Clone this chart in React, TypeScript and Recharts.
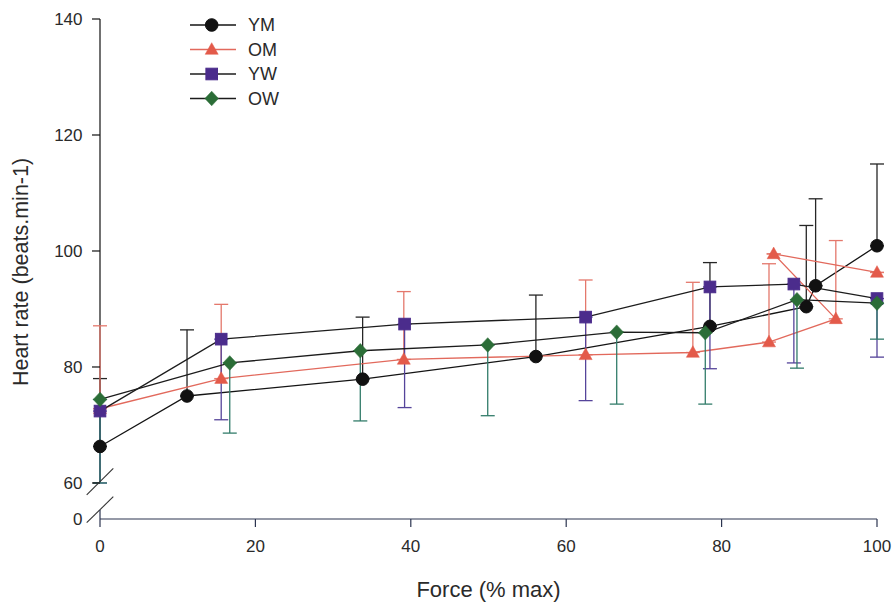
import React from 'react';
import { LineChart, Line, XAxis, YAxis, ErrorBar, ReferenceLine, Legend } from 'recharts';

// ---- Data ----
const ymForce = [0, 11.2, 33.8, 56.1, 78.5, 90.9, 92.1, 100];
const ymRate = [66.3, 75.0, 77.9, 81.8, 87.0, 90.4, 94.0, 100.9];
const ymUpperErr = [11.7, 11.4, 10.7, 10.6, 11.0, 14.0, 15.0, 14.1];

const omForce = [0, 15.6, 39.1, 62.5, 76.3, 86.1, 94.7, 86.7, 100];
const omRate = [72.8, 78.0, 81.3, 82.1, 82.5, 84.3, 88.3, 99.5, 96.3];
const omUpperErr = [14.3, 12.8, 11.7, 12.9, 12.1, 13.5, 13.5, 0, 0];

const ywForce = [0, 15.6, 39.2, 62.5, 78.5, 89.3, 100];
const ywRate = [72.4, 84.8, 87.4, 88.6, 93.8, 94.3, 91.8];
const ywLowerErr = [12.4, 13.9, 14.4, 14.4, 14.1, 13.6, 10.1];

const owForce = [0, 16.7, 33.5, 49.9, 66.5, 77.9, 89.7, 100];
const owRate = [74.4, 80.7, 82.8, 83.8, 86.0, 85.9, 91.6, 91.0];
const owLowerErr = [14.4, 12.1, 12.1, 12.2, 12.4, 12.3, 11.8, 6.2];

const xTicks = [0, 20, 40, 60, 80, 100];
const Y_BREAK_BOTTOM = 53.79; // axis bottom shown as "0" after the break
const yTickValues = [Y_BREAK_BOTTOM, 60, 80, 100, 120, 140];
const yTickLabels = ['0', '60', '80', '100', '120', '140'];

const seriesNames = ['YM', 'OM', 'YW', 'OW'];

// ---- Style ----
const FONT = '"Liberation Sans", Arial, sans-serif';
const AXIS_X = 100;
const TEXT_COLOR = '#2a2a2a';

const styles: Record<string, { line: string; fill: string; err: string; shape: string }> = {
  YM: { line: '#141414', fill: '#111111', err: '#262626', shape: 'circle' },
  OM: { line: '#e2695c', fill: '#e35a4a', err: '#e4786c', shape: 'triangle' },
  YW: { line: '#1c1c1c', fill: '#4b2c8c', err: '#55449a', shape: 'square' },
  OW: { line: '#1c1c1c', fill: '#2b6d37', err: '#327c6a', shape: 'diamond' },
};

const ymData = ymForce.map((x, i) => ({ x, y: ymRate[i], err: [0, ymUpperErr[i]] }));
const omData = omForce.map((x, i) => ({ x, y: omRate[i], err: [0, omUpperErr[i]] }));
const ywData = ywForce.map((x, i) => ({ x, y: ywRate[i], err: [ywLowerErr[i], 0] }));
const owData = owForce.map((x, i) => ({ x, y: owRate[i], err: [owLowerErr[i], 0] }));

function Marker({ cx, cy, shape, fill }: { cx: number; cy: number; shape: string; fill: string }) {
  if (cx == null || cy == null) return null;
  if (shape === 'circle') return <circle cx={cx} cy={cy} r={6.3} fill={fill} stroke={fill} />;
  if (shape === 'triangle')
    return (
      <polygon
        points={`${cx},${cy - 6.8} ${cx - 6.5},${cy + 4.8} ${cx + 6.5},${cy + 4.8}`}
        fill={fill}
        stroke={fill}
        strokeWidth={0.5}
      />
    );
  if (shape === 'square') return <rect x={cx - 5.8} y={cy - 5.8} width={11.6} height={11.6} fill={fill} stroke={fill} />;
  return (
    <polygon
      points={`${cx},${cy - 7.3} ${cx + 6.8},${cy} ${cx},${cy + 7.3} ${cx - 6.8},${cy}`}
      fill={fill}
      stroke={fill}
      strokeWidth={0.5}
    />
  );
}

const makeDot = (name: string) => (props: any) => (
  <Marker key={`${name}-${props.index}`} cx={props.cx} cy={props.cy} shape={styles[name].shape} fill={styles[name].fill} />
);

function YTick(props: any) {
  const { y, payload } = props;
  const idx = yTickValues.indexOf(payload.value);
  const label = idx >= 0 ? yTickLabels[idx] : String(payload.value);
  const isBottom = idx === 0;
  const isSixty = payload.value === 60;
  return (
    <g>
      <text
        x={AXIS_X - 17.5}
        y={y}
        dy="0.36em"
        textAnchor="end"
        fontSize={17}
        fontFamily={FONT}
        fill={TEXT_COLOR}
      >
        {label}
      </text>
      {!isBottom && <line x1={AXIS_X - 8} y1={y} x2={AXIS_X} y2={y} stroke="#111" strokeWidth={1.2} />}
      {isSixty && (
        <line x1={AXIS_X - 13.3} y1={y + 12} x2={AXIS_X + 13.3} y2={y - 14.7} stroke="#333" strokeWidth={1.1} />
      )}
      {isBottom && (
        <g>
          <line x1={AXIS_X - 13.3} y1={y + 3.7} x2={AXIS_X + 13.3} y2={y - 22.3} stroke="#333" strokeWidth={1.1} />
          <line x1={AXIS_X} y1={y - 9} x2={AXIS_X} y2={y} stroke="#2c3550" strokeWidth={1.2} />
        </g>
      )}
    </g>
  );
}

function LegendBox() {
  const rowY = [17, 41.5, 66, 90.5];
  return (
    <svg width={130} height={105} style={{ display: 'block', overflow: 'visible' }}>
      {seriesNames.map((name, i) => (
        <g key={name}>
          <line x1={0} y1={rowY[i]} x2={46} y2={rowY[i]} stroke={styles[name].line} strokeWidth={1.3} />
          <Marker cx={21.7} cy={rowY[i]} shape={styles[name].shape} fill={styles[name].fill} />
          <text x={58} y={rowY[i]} dy="0.36em" fontSize={18} fontFamily={FONT} fill={TEXT_COLOR}>
            {name}
          </text>
        </g>
      ))}
    </svg>
  );
}

const XTitle = () => (
  <text x={488.5} y={596.5} textAnchor="middle" fontSize={22} fontFamily={FONT} fill={TEXT_COLOR}>
    Force (% max)
  </text>
);

const YTitle = () => (
  <text
    x={28.3}
    y={272}
    transform="rotate(-90 28.3 272)"
    textAnchor="middle"
    fontSize={21.5}
    fontFamily={FONT}
    fill={TEXT_COLOR}
  >
    Heart rate (beats.min-1)
  </text>
);

export default function App() {
  const series = [
    { name: 'YM', data: ymData },
    { name: 'OM', data: omData },
    { name: 'YW', data: ywData },
    { name: 'OW', data: owData },
  ];
  return (
    <div style={{ position: 'absolute', left: 0, top: 0, width: 893, height: 602, background: '#fff' }}>
      <LineChart width={893} height={602} margin={{ top: 19, right: 16, left: 0, bottom: 23 }}>
        <XAxis
          type="number"
          dataKey="x"
          domain={[0, 100]}
          ticks={xTicks}
          interval={0}
          stroke="#2c3550"
          strokeWidth={1.2}
          tickSize={8}
          tickMargin={13}
          height={60}
          tick={{ fontSize: 17, fontFamily: FONT, fill: TEXT_COLOR }}
          label={{ content: () => <XTitle /> }}
        />
        <YAxis
          type="number"
          domain={[Y_BREAK_BOTTOM, 140]}
          ticks={yTickValues}
          interval={0}
          width={100}
          axisLine={false}
          tickLine={false}
          tick={<YTick />}
          allowDataOverflow
          label={{ content: () => <YTitle /> }}
        />
        <ReferenceLine
          segment={[
            { x: 0, y: 60 },
            { x: 0, y: 140 },
          ]}
          stroke="#111"
          strokeWidth={1.2}
          ifOverflow="visible"
        />
        {series.map((s) => (
          <Line
            key={s.name}
            name={s.name}
            data={s.data}
            dataKey="y"
            type="linear"
            stroke={styles[s.name].line}
            strokeWidth={1.3}
            dot={makeDot(s.name)}
            activeDot={false}
            isAnimationActive={false}
          >
            <ErrorBar
              dataKey="err"
              direction="y"
              width={7}
              stroke={styles[s.name].err}
              strokeWidth={1.3}
              isAnimationActive={false}
            />
          </Line>
        ))}
        <Legend
          layout="vertical"
          verticalAlign="middle"
          align="center"
          content={() => <LegendBox />}
          wrapperStyle={{ position: 'absolute', left: 190, top: 8, width: 130, height: 105 }}
        />
      </LineChart>
    </div>
  );
}
